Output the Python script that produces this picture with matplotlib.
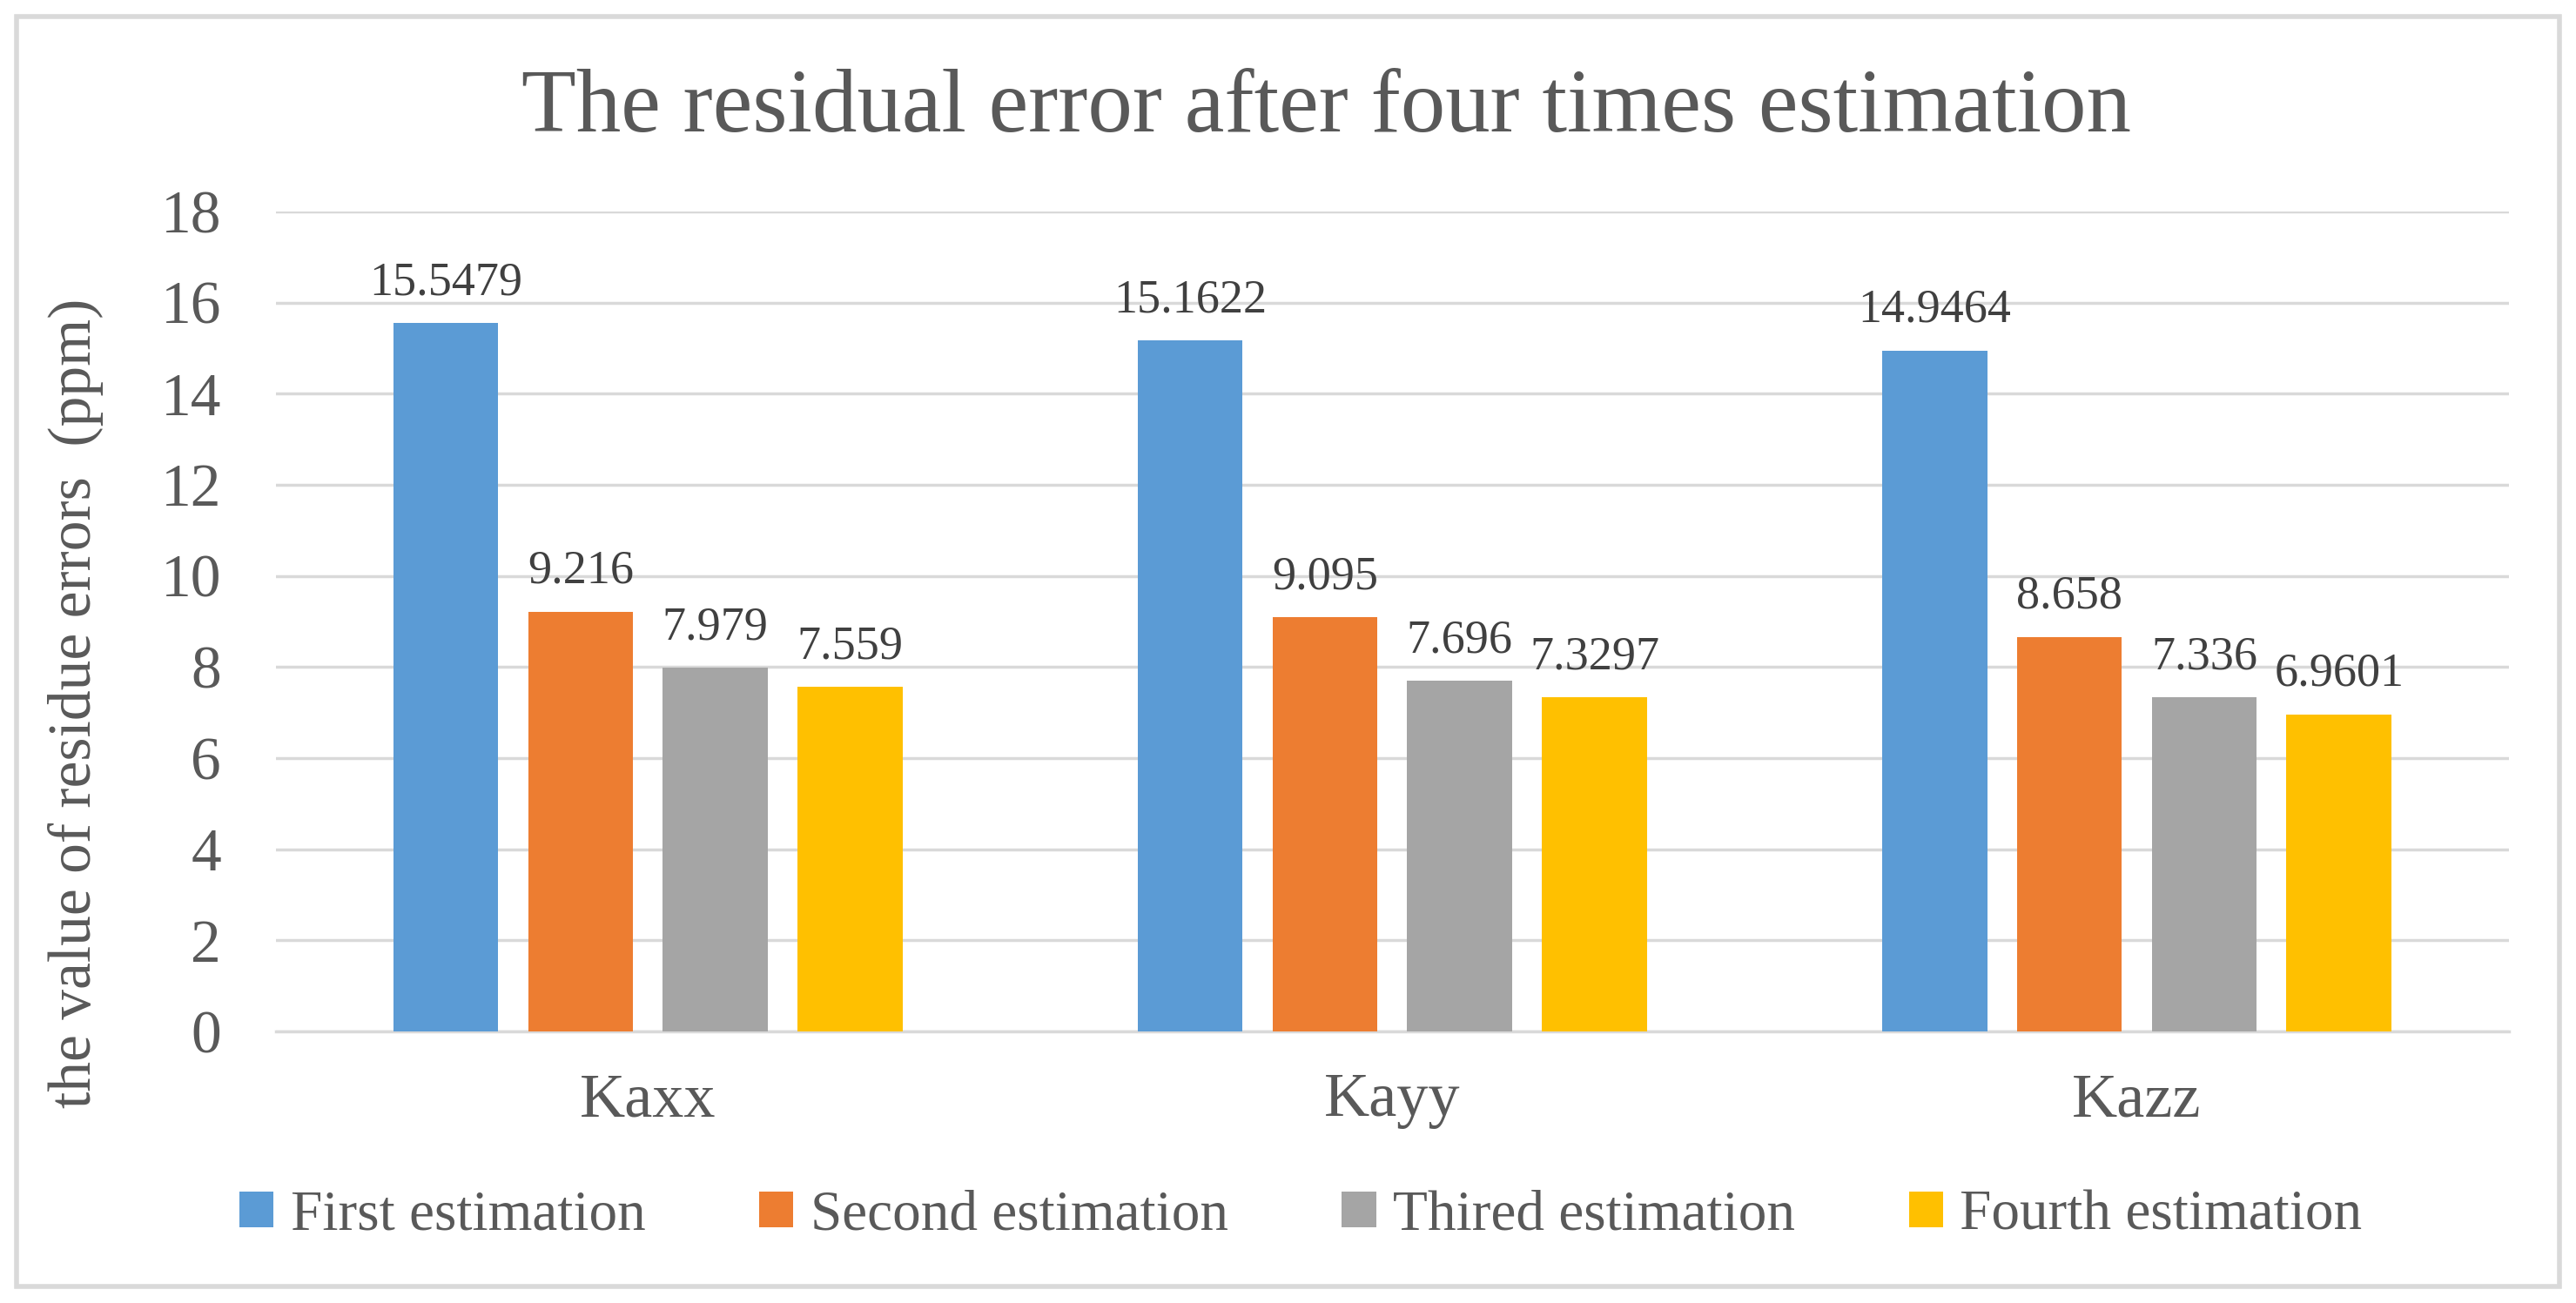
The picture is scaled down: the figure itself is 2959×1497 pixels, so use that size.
import numpy as np
import matplotlib.pyplot as plt
from matplotlib.patches import Rectangle

categories = ["Kaxx", "Kayy", "Kazz"]
series = ["First estimation", "Second estimation", "Thired estimation", "Fourth estimation"]
first = [15.5479, 15.1622, 14.9464]
second = [9.216, 9.095, 8.658]
third = [7.979, 7.696, 7.336]
fourth = [7.559, 7.3297, 6.9601]
labels = [["15.5479", "15.1622", "14.9464"],
          ["9.216", "9.095", "8.658"],
          ["7.979", "7.696", "7.336"],
          ["7.559", "7.3297", "6.9601"]]
colors = ["#5b9bd5", "#ed7d31", "#a5a5a5", "#ffc000"]

plt.rcParams['font.family'] = ['Liberation Serif', 'DejaVu Serif']
txt = "#595959"

fig = plt.figure(figsize=(29.59, 14.97), dpi=100)
# outer border
fig.patches.append(Rectangle((0.0065, 0.0130), 0.987, 0.974, transform=fig.transFigure,
                             fill=False, edgecolor="#d9d9d9", linewidth=4))

ax = fig.add_axes([0.107, 0.2084, 0.867, 0.6293])
x = np.arange(len(categories))
step = 0.181
width = 0.141
for j, vals in enumerate([first, second, third, fourth]):
    pos = x + (j - 1.5) * step
    bars = ax.bar(pos, vals, width, color=colors[j], label=series[j], zorder=3)
    for b, lab in zip(bars, labels[j]):
        ax.text(b.get_x() + b.get_width() / 2, b.get_height() + 0.4, lab,
                ha="center", va="bottom", fontsize=39, color="#404040")

ax.set_xlim(-0.5, 2.5)
ax.set_ylim(0, 18)
ax.set_yticks(np.arange(0, 19, 2))
ax.set_xticks(x)
ax.set_xticklabels(categories)
ax.yaxis.grid(True, color="#d9d9d9", linewidth=2.5, zorder=0)
for s in ["top", "right", "left"]:
    ax.spines[s].set_visible(False)
ax.spines["bottom"].set_color("#d9d9d9")
ax.spines["bottom"].set_linewidth(2.5)
ax.tick_params(axis="y", length=0, labelsize=50, colors=txt, pad=45)
ax.tick_params(axis="x", length=0, labelsize=52, colors=txt, pad=34)
ax.set_ylabel("the value of residue errors  (ppm)", fontsize=50, color=txt)
ax.yaxis.set_label_coords(-0.077, 0.40)

fig.suptitle("The residual error after four times estimation", fontsize=74, color=txt,
             x=0.515, y=0.947)

fig.legend(loc="center", bbox_to_anchor=(0.505, 0.067), ncol=4, frameon=False,
           fontsize=47, labelcolor=txt, handlelength=0.6, handleheight=0.6,
           handletextpad=0.3, columnspacing=2.0)

fig.savefig("out.png", dpi=100)
